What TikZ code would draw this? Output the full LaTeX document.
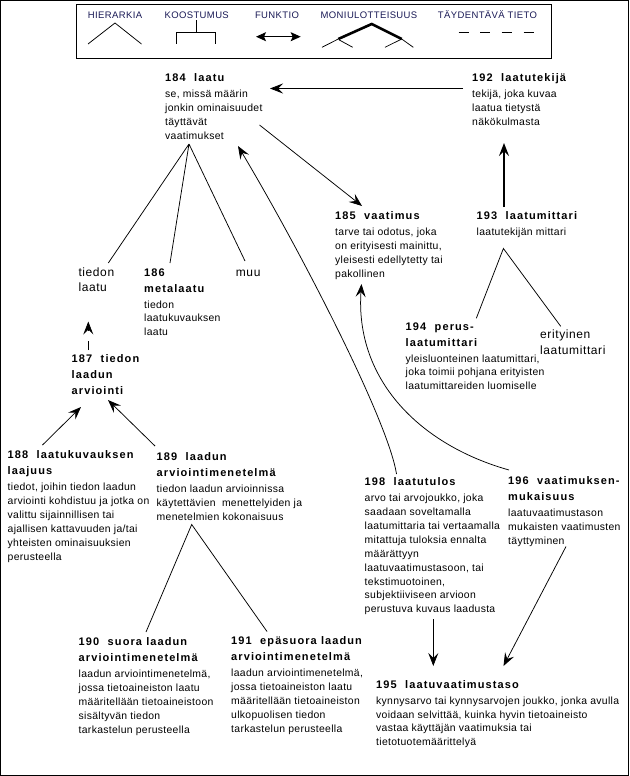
\documentclass[tikz,border=0pt]{standalone}
\usepackage{fontspec}
\setmainfont{Liberation Sans}
\newfontfamily\bodyf{Liberation Sans}[LetterSpace=3]
\newfontfamily\titlef{Liberation Sans}[LetterSpace=10]
\newfontfamily\bigf{Liberation Sans}[LetterSpace=5]
\newfontfamily\legf{Liberation Sans}[LetterSpace=4]
\usetikzlibrary{arrows.meta}
\definecolor{legblue}{RGB}{25,25,85}
\newcommand\bodyfont{\bodyf\fontsize{10.4}{13.9}\selectfont}
\newcommand\bigfont{\bigf\fontsize{12}{15.5}\selectfont}
\newcommand\legfont{\legf\fontsize{9.5}{11}\selectfont}
\newcommand\ctitle[1]{{\titlef\bfseries\fontsize{11}{16}\selectfont\rule{0pt}{9pt}#1}}
\newcommand\ctt[1]{{\titlef\bfseries\fontsize{11}{16}\selectfont#1}}
\newcommand\nsp{\hspace{8.5pt}}
\tikzset{
  concept/.style={anchor=north west, inner sep=0pt, align=left, font=\bodyfont},
  biglbl/.style={anchor=north west, inner sep=0pt, align=left, font=\bigfont},
  leg/.style={anchor=base, inner sep=0pt, font=\legfont, text=legblue},
  ln/.style={line width=0.75pt},
  arr/.style={line width=0.75pt, -{Stealth[length=13pt,width=10pt,inset=5pt]}},
}
\begin{document}
\begin{tikzpicture}[x=1pt,y=-1pt]
\useasboundingbox (0,0) rectangle (629,776);
\draw[line width=1pt] (0.5,0.5) rectangle (628.5,775.5);

% legend
\draw[line width=0.9pt] (76.5,4.5) rectangle (551,58.5);
\node[leg] (lh) at (115,18.5) {HIERARKIA};
\node[leg] (lk) at (196.7,18.5) {KOOSTUMUS};
\node[leg] (lf) at (277,18.5) {FUNKTIO};
\node[leg] (lm) at (369,18.5) {MONIULOTTEISUUS};
\node[leg] (lt) at (487.5,18.5) {TÄYDENTÄVÄ TIETO};
\draw[ln] (88,44) -- (115,23) -- (141.5,44);
\draw[ln] (196.7,20.5) -- (196.7,32.7);
\draw[ln] (176.7,44) -- (176.7,32.7) -- (215,32.7) -- (215,44);
\draw[line width=1pt, {Stealth[length=10pt,width=9pt,inset=2pt]}-{Stealth[length=10pt,width=9pt,inset=2pt]}] (256,36.7) -- (300.7,36.7);
\draw[line width=2.6pt] (338.3,39) -- (371.7,24) -- (401.7,39);
\draw[ln] (322,47.3) -- (338.3,39);
\draw[ln] (339.3,40) -- (352.7,47.3);
\draw[ln] (385,47.3) -- (401.7,39) -- (413.3,47.3);
\draw[line width=0.9pt] (458.5,32.5) -- (468.5,32.5) (480,32.5) -- (490,32.5) (501.5,32.5) -- (511.5,32.5) (523.5,32.5) -- (533.5,32.5);

% concepts
\node[concept] (n184) at (165,72.5) {\ctitle{184\nsp laatu}\\[2pt] se, missä määrin\\ jonkin ominaisuudet\\ täyttävät\\ vaatimukset};
\node[concept] (n192) at (472,72.5) {\ctitle{192\nsp laatutekijä}\\[2pt] tekijä, joka kuvaa\\ laatua tietystä\\ näkökulmasta};
\node[concept] (n185) at (335,210.5) {\ctitle{185\nsp vaatimus}\\[2pt] tarve tai odotus, joka\\ on erityisesti mainittu,\\ yleisesti edellytetty tai\\ pakollinen};
\node[concept] (n193) at (476.5,210.5) {\ctitle{193\nsp laatumittari}\\[2pt] laatutekijän mittari};
\node[biglbl] (ntl) at (78.3,266) {\rule{0pt}{10pt}tiedon\\ laatu};
\node[concept] (n186) at (144,267) {\ctitle{186}\\[2pt] \ctt{metalaatu}\\[2pt] tiedon\\ laatukuvauksen\\ laatu};
\node[biglbl] (nmuu) at (235.7,266) {\rule{0pt}{10pt}muu};
\node[concept] (n187) at (71.5,353.5) {\ctitle{187\nsp tiedon}\\[2pt] \ctt{laadun}\\[2pt] \ctt{arviointi}};
\node[concept] (n188) at (7.5,449.5) {\ctitle{188\nsp laatukuvauksen}\\[2pt] \ctt{laajuus}\\[2pt] tiedot, joihin tiedon laadun\\ arviointi kohdistuu ja jotka on\\ valittu sijainnillisen tai\\ ajallisen kattavuuden ja/tai\\ yhteisten ominaisuuksien\\ perusteella};
\node[concept] (n189) at (156.5,451.5) {\ctitle{189\nsp laadun}\\[2pt] \ctt{arviointimenetelmä}\\[2pt] tiedon laadun arvioinnissa\\ käytettävien\ \ menettelyiden ja\\ menetelmien kokonaisuus};
\node[concept] (n190) at (78.5,636.5) {\ctitle{190\nsp suora laadun}\\[2pt] \ctt{arviointimenetelmä}\\[2pt] laadun arviointimenetelmä,\\ jossa tietoaineiston laatu\\ määritellään tietoaineistoon\\ sisältyvän tiedon\\ tarkastelun perusteella};
\node[concept] (n191) at (231,635.5) {\ctitle{191\nsp epäsuora laadun}\\[2pt] \ctt{arviointimenetelmä}\\[2pt] laadun arviointimenetelmä,\\ jossa tietoaineiston laatu\\ määritellään tietoaineiston\\ ulkopuolisen tiedon\\ tarkastelun perusteella};
\node[concept] (n194) at (405.5,321) {\ctitle{194\nsp perus-}\\[2pt] \ctt{laatumittari}\\[2pt] yleisluonteinen laatumittari,\\ joka toimii pohjana erityisten\\ laatumittareiden luomiselle};
\node[biglbl] (nerit) at (540,328.5) {\rule{0pt}{10pt}erityinen\\ laatumittari};
\node[concept] (n198) at (364.5,476.5) {\ctitle{198\nsp laatutulos}\\[2pt] arvo tai arvojoukko, joka\\ saadaan soveltamalla\\ laatumittaria tai vertaamalla\\ mitattuja tuloksia ennalta\\ määrättyyn\\ laatuvaatimustasoon, tai\\ tekstimuotoinen,\\ subjektiiviseen arvioon\\ perustuva kuvaus laadusta};
\node[concept] (n196) at (508,475.5) {\ctitle{196\nsp vaatimuksen-}\\[2pt] \ctt{mukaisuus}\\[2pt] laatuvaatimustason\\ mukaisten vaatimusten\\ täyttyminen};
\node[concept] (n195) at (376,679) {\ctitle{195\nsp laatuvaatimustaso}\\[2pt] kynnysarvo tai kynnysarvojen joukko, jonka avulla\\ voidaan selvittää, kuinka hyvin tietoaineisto\\ vastaa käyttäjän vaatimuksia tai\\ tietotuotemäärittelyä};

% connector end points
\coordinate (c192w) at (463,88.5);
\coordinate (c184e) at (270,88.5);
\coordinate (c193n) at (504,207);
\coordinate (c192s) at (504,143);
\coordinate (c184se) at (259.5,125);
\coordinate (c185n) at (362,206);
\coordinate (c198n) at (396.5,474);
\coordinate (c184s) at (238,146);
\coordinate (c196w) at (509,470);
\coordinate (c185s) at (361.5,284);
\coordinate (c184h) at (189,144);
\coordinate (ctl) at (108.3,263);
\coordinate (c186) at (170,263);
\coordinate (cmuu) at (245,261);
\coordinate (c187n) at (88.3,350);
\coordinate (ctls) at (88.3,321.5);
\coordinate (c188n) at (42.5,445);
\coordinate (c187a) at (81,407);
\coordinate (c189n) at (155,446);
\coordinate (c187b) at (108,400);
\coordinate (c189h) at (191.7,524.5);
\coordinate (c190n) at (146,632);
\coordinate (c191n) at (267,631.5);
\coordinate (c193h) at (503.4,248.5);
\coordinate (c194n) at (476.3,318.3);
\coordinate (cerit) at (560.7,326.3);
\coordinate (c198s) at (433.3,619);
\coordinate (c195a) at (433.3,666);
\coordinate (c196s) at (566,546.5);
\coordinate (c195b) at (503.5,666);

% connectors
\draw[arr] (c192w) -- (c184e);
\draw[arr, line width=1.3pt] (c193n) -- (c192s);
\draw[arr] (c184se) -- (c185n);
\draw[arr] (c198n) .. controls (388,420) and (300,250) .. (c184s);
\draw[arr] (c196w) .. controls (420,445) and (355,380) .. (c185s);
\draw[ln] (c184h) -- (ctl) (c184h) -- (c186) (c184h) -- (cmuu);
\draw[arr, dash pattern=on 9pt off 10pt on 40pt] (c187n) -- (ctls);
\draw[arr] (c188n) -- (c187a);
\draw[arr] (c189n) -- (c187b);
\draw[ln] (c190n) -- (c189h) -- (c191n);
\draw[ln] (c194n) -- (c193h) -- (cerit);
\draw[arr] (c198s) -- (c195a);
\draw[arr] (c196s) -- (c195b);
\end{tikzpicture}
\end{document}
